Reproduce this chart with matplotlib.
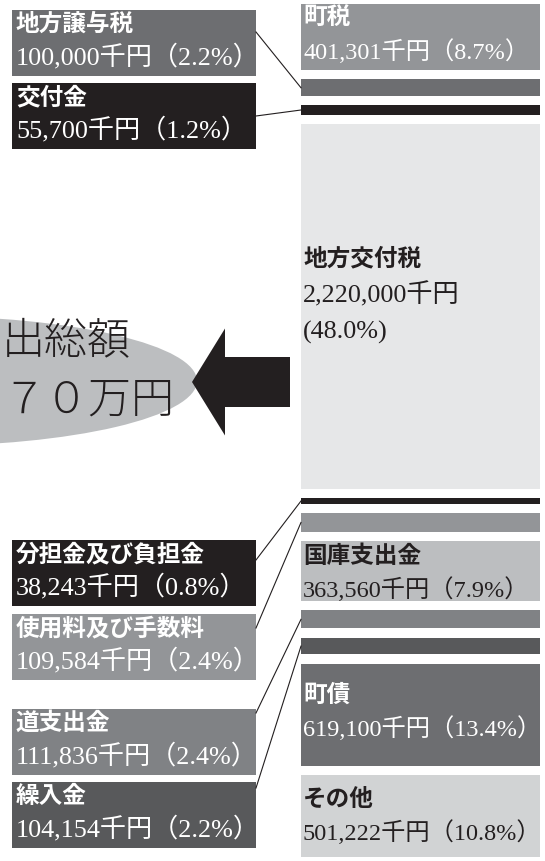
import matplotlib.pyplot as plt
from matplotlib.patches import Ellipse, FancyArrow, Rectangle

# revenue items (top to bottom in the stacked bar)
labels = ['町税', '地方譲与税', '交付金', '地方交付税', '分担金及び負担金',
          '使用料及び手数料', '国庫支出金', '道支出金', '繰入金', '町債', 'その他']
amounts = [401301, 100000, 55700, 2220000, 38243, 109584,
           363560, 111836, 104154, 619100, 501222]  # 千円
shares = [8.7, 2.2, 1.2, 48.0, 0.8, 2.4, 7.9, 2.4, 2.2, 13.4, 10.8]  # %
colors = ['#939598', '#6d6e71', '#231f20', '#e6e7e8', '#231f20', '#939598',
          '#bcbec0', '#808285', '#58595b', '#6d6e71', '#d1d3d4']

# items labelled in boxes on the left: box top, y where the leader leaves the box
left_items = {'地方譲与税': (10, 32), '交付金': (83, 116),
              '分担金及び負担金': (540, 560), '使用料及び手数料': (614, 628),
              '道支出金': (709, 713), '繰入金': (782, 788)}
# items labelled inside the bar: title y, value y
right_items = {'町税': (17, 52), '国庫支出金': (556, 590),
               '町債': (695, 729), 'その他': (799, 833)}
dark_text = ['地方交付税', '国庫支出金', 'その他']

JP = ['Noto Sans CJK JP']
NUM = ['Liberation Serif', 'Noto Sans CJK JP']
LSIZE = 18.8   # values in left boxes
RSIZE = 17.5   # values inside the bar (must fit before the right edge)

fig = plt.figure(figsize=(5.45, 8.61), dpi=100)
ax = fig.add_axes([0, 0, 1, 1])
ax.set_xlim(0, 545)
ax.set_ylim(861, 0)
ax.axis('off')

# stacked bar with gaps, height proportional to share
bar_x, bar_w = 301, 239
scale, gap = 7.6, 9.3
tops = []
y = 4
for s in shares:
    tops.append(y)
    y += s * scale + gap
heights = [s * scale for s in shares]
ax.bar(bar_x, heights, bottom=tops, width=bar_w, align='edge', color=colors)


def value_text(amt, pct):
    return f'{amt:,}千円（{pct}%）'


for i, lab in enumerate(labels):
    tc = '#231f20' if lab in dark_text else 'white'
    if lab in right_items:
        ty, vy = right_items[lab]
        ax.text(303, ty, lab, family=JP, weight='bold', fontsize=17,
                color=tc, va='center')
        ax.text(303, vy, value_text(amounts[i], shares[i]), family=NUM,
                fontsize=RSIZE, color=tc, va='center')
    elif lab in left_items:
        btop, ly = left_items[lab]
        ax.add_patch(Rectangle((12, btop), 244, 66, color=colors[i], lw=0))
        ax.text(16, btop + 14, lab, family=JP, weight='bold', fontsize=17,
                color='white', va='center')
        ax.text(16, btop + 47, value_text(amounts[i], shares[i]), family=NUM,
                fontsize=LSIZE, color='white', va='center')
        ax.plot([256, bar_x], [ly, tops[i] + heights[i] / 2],
                color='#231f20', lw=0.8)

# 地方交付税 label spans three lines
i = labels.index('地方交付税')
ax.text(303, 258, labels[i], family=JP, weight='bold', fontsize=17,
        color='#231f20', va='center')
ax.text(303, 295, f'{amounts[i]:,}千円', family=NUM, fontsize=LSIZE,
        color='#231f20', va='center')
ax.text(303, 332, f'({shares[i]}%)', family=NUM, fontsize=LSIZE,
        color='#231f20', va='center')

# total bubble and arrow
ax.add_patch(Ellipse((-80, 381), 554, 130, color='#bcbec0', lw=0))
ax.text(2, 341, '出総額', family=JP, weight='light', fontsize=31,
        color='#231f20', va='center')
ax.text(2, 400, '７０万円', family=JP, weight='light', fontsize=31,
        color='#231f20', va='center')
ax.add_patch(FancyArrow(290, 382, -98, 0, width=50, head_width=107,
                        head_length=33, length_includes_head=True,
                        color='#231f20', lw=0))

fig.savefig('out.png', dpi=100)
